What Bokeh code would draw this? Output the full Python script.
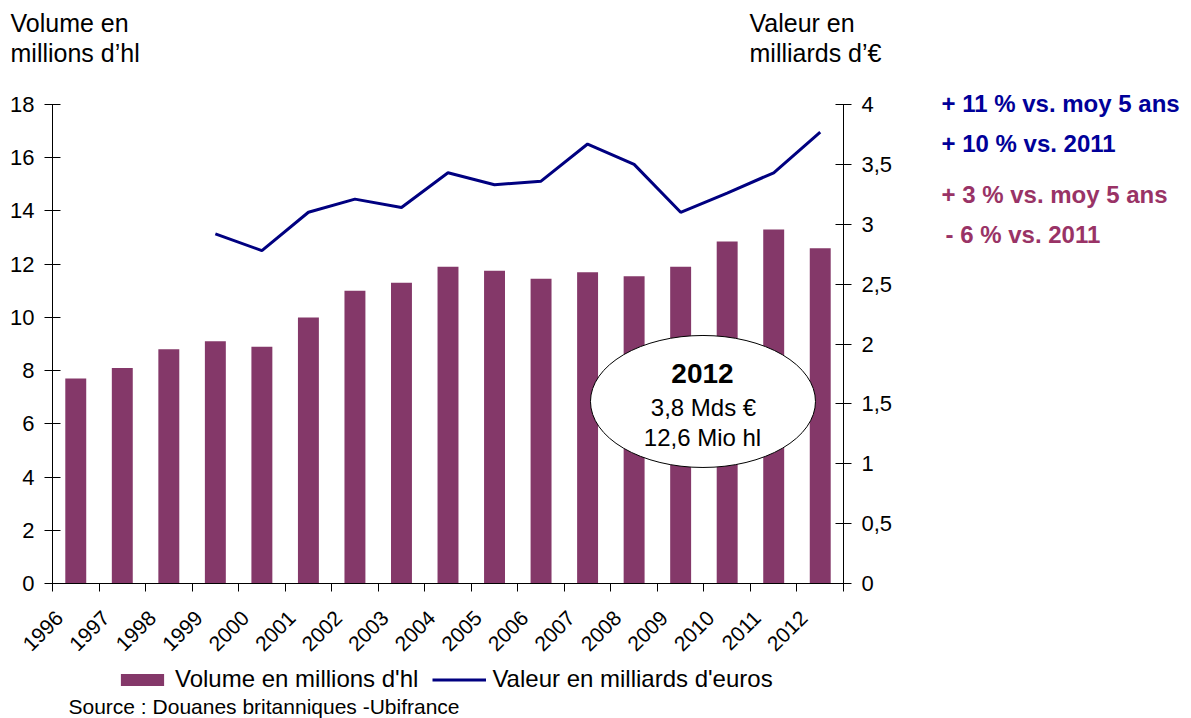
from bokeh.plotting import figure
from bokeh.models import (Range1d, LinearAxis, FixedTicker, CustomJSTickFormatter,
                          Label, ColumnDataSource)
from bokeh.embed import file_html
from bokeh.resources import INLINE

# ---------------- data ----------------
years = ["1996", "1997", "1998", "1999", "2000", "2001", "2002", "2003", "2004",
         "2005", "2006", "2007", "2008", "2009", "2010", "2011", "2012"]
volume = [7.7, 8.1, 8.8, 9.1, 8.9, 10.0, 11.0, 11.3, 11.9, 11.75, 11.45, 11.7,
          11.55, 11.9, 12.85, 13.3, 12.6]
value_years = ["1999", "2000", "2001", "2002", "2003", "2004", "2005", "2006",
               "2007", "2008", "2009", "2010", "2011", "2012"]
value = [2.92, 2.78, 3.10, 3.21, 3.14, 3.43, 3.33, 3.36, 3.67, 3.50, 3.10, 3.26,
         3.43, 3.77]
left_ticks = [0, 2, 4, 6, 8, 10, 12, 14, 16, 18]
right_ticks = [0, 0.5, 1, 1.5, 2, 2.5, 3, 3.5, 4]

BAR = "#843869"
NAVY = "#000080"
NAVY_TXT = "#000099"
PLUM_TXT = "#993366"
FONT = "Liberation Sans"

# ---------------- layout geometry (page pixels) ----------------
W, H = 1191, 718
FL, FT, FR, FB = 52, 104, 843, 583   # plotting area edges
NX = len(years)
YMAX_L, YMAX_R = 18, 4

# the whole canvas is the frame; ranges are extended so that the data area
# sits exactly on the plotting-area edges above
px_x = (FR - FL) / NX
px_l = (FB - FT) / YMAX_L
px_r = (FB - FT) / YMAX_R
x_range = Range1d(-FL / px_x, NX + (W - FR) / px_x)
y_range = Range1d(-(H - FB) / px_l, YMAX_L + FT / px_l)
val_range = Range1d(-(H - FB) / px_r, YMAX_R + FT / px_r)

xc = [years.index(y) + 0.5 for y in years]
xv = [years.index(y) + 0.5 for y in value_years]

p = figure(width=W, height=H, output_backend="svg", toolbar_location=None,
           x_range=x_range, y_range=y_range,
           min_border=0, x_axis_type=None, y_axis_type=None)
p.extra_y_ranges = {"val": val_range}
p.outline_line_color = None
p.xgrid.visible = False
p.ygrid.visible = False
p.background_fill_color = "white"
p.border_fill_color = "white"

# ---------------- axes ----------------
xaxis = LinearAxis(ticker=FixedTicker(ticks=[i + 0.15 for i in range(NX)],
                                      minor_ticks=list(range(NX + 1))),
                   formatter=CustomJSTickFormatter(args=dict(years=years),
                                                   code="return years[Math.floor(tick)]"),
                   fixed_location=0, bounds=(0, NX))
xaxis.major_tick_in = 0
xaxis.major_tick_out = 0
xaxis.minor_tick_in = 0
xaxis.minor_tick_out = 8
xaxis.minor_tick_line_color = "black"
xaxis.axis_line_color = "black"
xaxis.major_label_orientation = 0.785398
xaxis.major_label_standoff = 23
xaxis.major_label_text_font = FONT
xaxis.major_label_text_font_size = "21px"
xaxis.major_label_text_color = "black"
p.add_layout(xaxis, "below")

yl = LinearAxis(ticker=FixedTicker(ticks=left_ticks, minor_ticks=[]),
                fixed_location=0, bounds=(0, YMAX_L))
yl.major_tick_in = 8
yl.major_tick_out = 8
yl.minor_tick_line_color = None
yl.major_label_standoff = 10
yl.major_label_text_font = FONT
yl.major_label_text_font_size = "22px"
yl.major_label_text_color = "black"
yl.axis_line_color = "black"
p.add_layout(yl, "left")

yr = LinearAxis(y_range_name="val", ticker=FixedTicker(ticks=right_ticks, minor_ticks=[]),
                formatter=CustomJSTickFormatter(code="return String(tick).replace('.', ',')"),
                fixed_location=NX, bounds=(0, YMAX_R))
yr.major_tick_in = 8
yr.major_tick_out = 8
yr.minor_tick_line_color = None
yr.major_label_standoff = 10
yr.major_label_text_font = FONT
yr.major_label_text_font_size = "22px"
yr.major_label_text_color = "black"
yr.axis_line_color = "black"
p.add_layout(yr, "right")

# ---------------- glyphs ----------------
src_bar = ColumnDataSource(dict(x=xc, top=volume))
src_val = ColumnDataSource(dict(x=xv, y=value))
p.vbar(x="x", top="top", width=0.45, source=src_bar, fill_color=BAR, line_color=None,
       legend_label="Volume en millions d'hl")
p.line(x="x", y="y", source=src_val, y_range_name="val", line_color=NAVY, line_width=3,
       legend_label="Valeur en milliards d'euros")

# callout ellipse (annotation)
p.ellipse(x=[13.98], y=[6.84], width=225, height=132, width_units="screen",
          height_units="screen", fill_color="white", line_color="black", line_width=1)

# ---------------- legend ----------------
lg = p.legend[0]
lg.orientation = "horizontal"
lg.location = (115, H - 693)
lg.glyph_width = 54
lg.glyph_height = 15
lg.label_standoff = 6
lg.spacing = 14
lg.padding = 0
lg.margin = 0
lg.border_line_color = None
lg.background_fill_alpha = 0
lg.label_text_font = FONT
lg.label_text_font_size = "24px"
lg.label_text_color = "black"


def lab(text, xref, yref, size, color="black", bold=False, align="left"):
    p.add_layout(Label(x=xref, y=H - yref, x_units="screen", y_units="screen",
                       text=text, text_font=FONT, text_font_size=size,
                       text_color=color, text_baseline="middle", text_align=align,
                       text_font_style="bold" if bold else "normal"))


lab("Volume en", 10, 22, "25px")
lab("millions d\u2019hl", 10, 52, "25px")
lab("Valeur en", 749, 22, "25px")
lab("milliards d\u2019\u20ac", 749, 52, "25px")
lab("+ 11 % vs. moy 5 ans", 941, 103, "24px", NAVY_TXT, True)
lab("+ 10 % vs. 2011", 941, 143, "24px", NAVY_TXT, True)
lab("+ 3 % vs. moy 5 ans", 941, 194, "24px", PLUM_TXT, True)
lab("- 6 % vs. 2011", 945, 234, "24px", PLUM_TXT, True)
lab("2012", 702, 373, "28px", bold=True, align="center")
lab("3,8 Mds \u20ac", 703, 407, "24px", align="center")
lab("12,6 Mio hl", 702, 437, "24px", align="center")
lab("Source : Douanes britanniques -Ubifrance", 68, 706, "21px")

open("out.html", "w").write(file_html(p, INLINE))
